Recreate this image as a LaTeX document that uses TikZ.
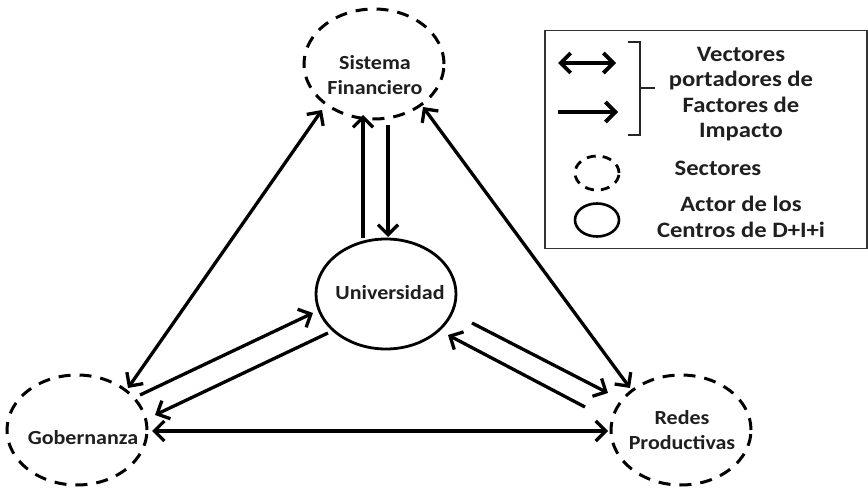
\documentclass[tikz,border=0pt]{standalone}
\usepackage{fontspec}
\setmainfont{Carlito}[FakeStretch=1.1]
\newfontfamily\legfont{Carlito}[FakeStretch=1.12]
\usetikzlibrary{arrows.meta,calc,shapes.geometric}
\begin{document}
\begin{tikzpicture}[x=1pt,y=-1pt,
  sector/.style={ellipse, draw, line width=3pt, dash pattern=on 12pt off 9pt,
    minimum width=140pt, minimum height=110pt, inner sep=0pt},
  actor/.style={ellipse, draw, line width=2.8pt,
    minimum width=140pt, minimum height=110pt, inner sep=0pt},
  smallsector/.style={ellipse, draw, line width=2.8pt, dash pattern=on 9pt off 7pt,
    minimum width=44pt, minimum height=34pt, inner sep=0pt},
  smallactor/.style={ellipse, draw, line width=2.6pt,
    minimum width=44pt, minimum height=33pt, inner sep=0pt},
  lbl/.style={font=\fontsize{20}{24.5}\selectfont\bfseries, text=black!88, align=center, inner sep=0pt},
  legtxt/.style={font=\legfont\fontsize{22}{25.5}\selectfont\bfseries, text=black!88, align=center, inner sep=0pt},
  one/.style={line width=3.3pt, -{Straight Barb[length=10pt,width=20pt]}},
  two/.style={line width=3.3pt, {Straight Barb[length=10pt,width=20pt]}-{Straight Barb[length=10pt,width=20pt]}},
  ]
\useasboundingbox (0,0) rectangle (868,489);
\fill[white] (0,0) rectangle (868,489);

% nodes
\node[sector] (sf) at (374,64) {};
\node[lbl] (sft) at (375,75) {Sistema\\Financiero};
\node[actor] (un) at (386,294) {};
\node[lbl] (unt) at (390,293) {Universidad};
\node[sector] (gob) at (77,430) {};
\node[lbl] (gobt) at (83,438) {Gobernanza};
\node[sector] (red) at (681,430) {};
\node[lbl] (redt) at (682,430) {Redes\\Productivas};

% connectors
\draw[two] ($(gob.center)+(51,-42)$) -- ($(sf.center)+(-52,46)$);
\draw[two] ($(sf.center)+(49,43)$) -- ($(red.center)+(-51,-42)$);
\draw[one] ($(un.center)+(-23,-56)$) -- ($(sf.center)+(-11,51)$);
\draw[one] ($(sf.center)+(14,61)$) -- ($(un.center)+(2,-57)$);
\draw[two] ($(gob.center)+(75,1)$) -- ($(red.center)+(-73,1)$);
\draw[one] ($(gob.center)+(63,-35)$) -- ($(un.center)+(-73,19)$);
\draw[one] ($(un.center)+(-58,39)$) -- ($(gob.center)+(78,-15)$);
\draw[one] ($(un.center)+(86,29)$) -- ($(red.center)+(-73,-37)$);
\draw[one] ($(red.center)+(-96,-23)$) -- ($(un.center)+(62,41)$);

% legend
\node[draw=black!80, line width=1.5pt, minimum width=322pt, minimum height=218pt,
  anchor=north west, inner sep=0pt] (legend) at (544,30) {};
\coordinate (la1) at (558,63);
\coordinate (la2) at (616,63);
\coordinate (lb1) at (558,112);
\coordinate (lb2) at (618,112);
\draw[two, line width=3.8pt] (la1) -- (la2);
\draw[one, line width=3.8pt] (lb1) -- (lb2);
\draw[line width=1.3pt, black!85] (628,42) -- (640,42) -- (640,135) -- (628,135);
\draw[line width=1.3pt, black!85] (640,88) -- (655,88);
\node[legtxt] (vtxt) at (741,94) {Vectores\\portadores de\\Factores de\\Impacto};
\node[smallsector] (lsec) at (597,173) {};
\node[legtxt] (stxt) at (718,168) {Sectores};
\node[smallactor] (lact) at (597,220) {};
\node[legtxt] (atxt) at (741,217) {Actor de los\\Centros de D+I+i};
\end{tikzpicture}
\end{document}
